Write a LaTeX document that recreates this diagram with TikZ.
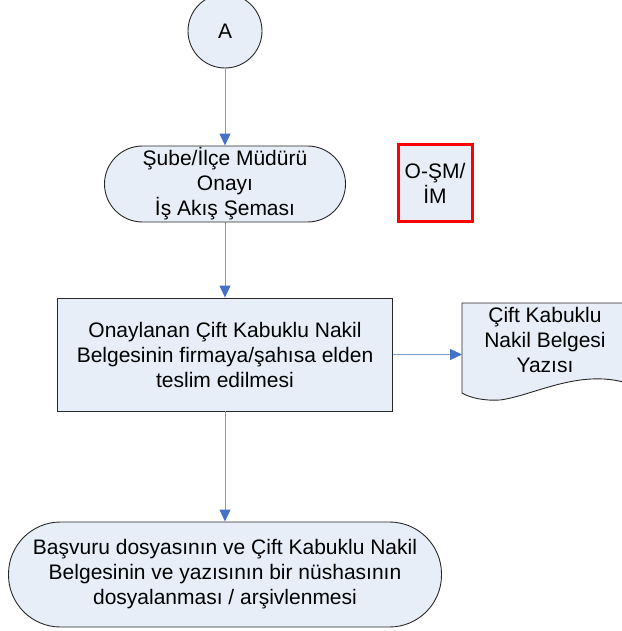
\documentclass[tikz,border=0pt]{standalone}
\usepackage{fontspec}
\setmainfont{Liberation Sans}
\usetikzlibrary{arrows.meta}
\definecolor{boxfill}{RGB}{232,238,248}
\definecolor{arrline}{RGB}{120,155,210}
\definecolor{arrhead}{RGB}{68,114,196}
\definecolor{outl}{RGB}{40,40,40}
\tikzset{
  txt/.style={font=\fontsize{21}{25}\selectfont, align=center, text=black},
  shp/.style={draw=outl, line width=0.9pt, fill=boxfill, inner sep=0pt},
  arr/.style={draw=arrline, line width=1pt, -{Triangle[length=12pt,width=11pt,color=arrhead,fill=arrhead]}},
}
\begin{document}
\begin{tikzpicture}[x=1pt,y=1pt]
\useasboundingbox (0,0) rectangle (621,-631);
% document shape
\draw[shp] (462,-303) -- (660,-303) -- (660,-400) .. controls (600,-355) and (540,-395) .. (500,-400) .. controls (485,-401) and (470,-398) .. (462,-393) -- cycle;
\coordinate (docw) at (462,-354.5);
\node[txt] (doctext) at (545,-340) {Çift Kabuklu\\Nakil Belgesi\\Yazısı};
% nodes
\node[shp, circle, minimum size=74pt, txt] (A) at (225,-31) {A};
\node[shp, txt, rectangle, rounded corners=38pt, minimum width=241pt, minimum height=76pt] (s1) at (225,-184) {Şube/İlçe Müdürü\\Onayı\\İş Akış Şeması};
\node[draw=red, line width=3pt, fill=boxfill, txt, minimum width=74pt, minimum height=76pt, inner sep=0pt] (osm) at (435,-183) {O-ŞM/\\İM};
\node[shp, txt, rectangle, minimum width=335pt, minimum height=113pt] (r) at (225,-354.5) {Onaylanan Çift Kabuklu Nakil\\Belgesinin firmaya/şahısa elden\\teslim edilmesi};
\node[shp, txt, rectangle, rounded corners=52pt, minimum width=433pt, minimum height=105pt] (s2) at (225,-574.5) {Başvuru dosyasının ve Çift Kabuklu Nakil\\Belgesinin ve yazısının bir nüshasının\\dosyalanması / arşivlenmesi};
% connectors
\draw[arr] (A.south) -- (s1.north);
\draw[arr] (s1.south) -- (r.north);
\draw[arr] (r.east) -- (docw);
\draw[arr] (r.south) -- (s2.north);
\end{tikzpicture}
\end{document}
